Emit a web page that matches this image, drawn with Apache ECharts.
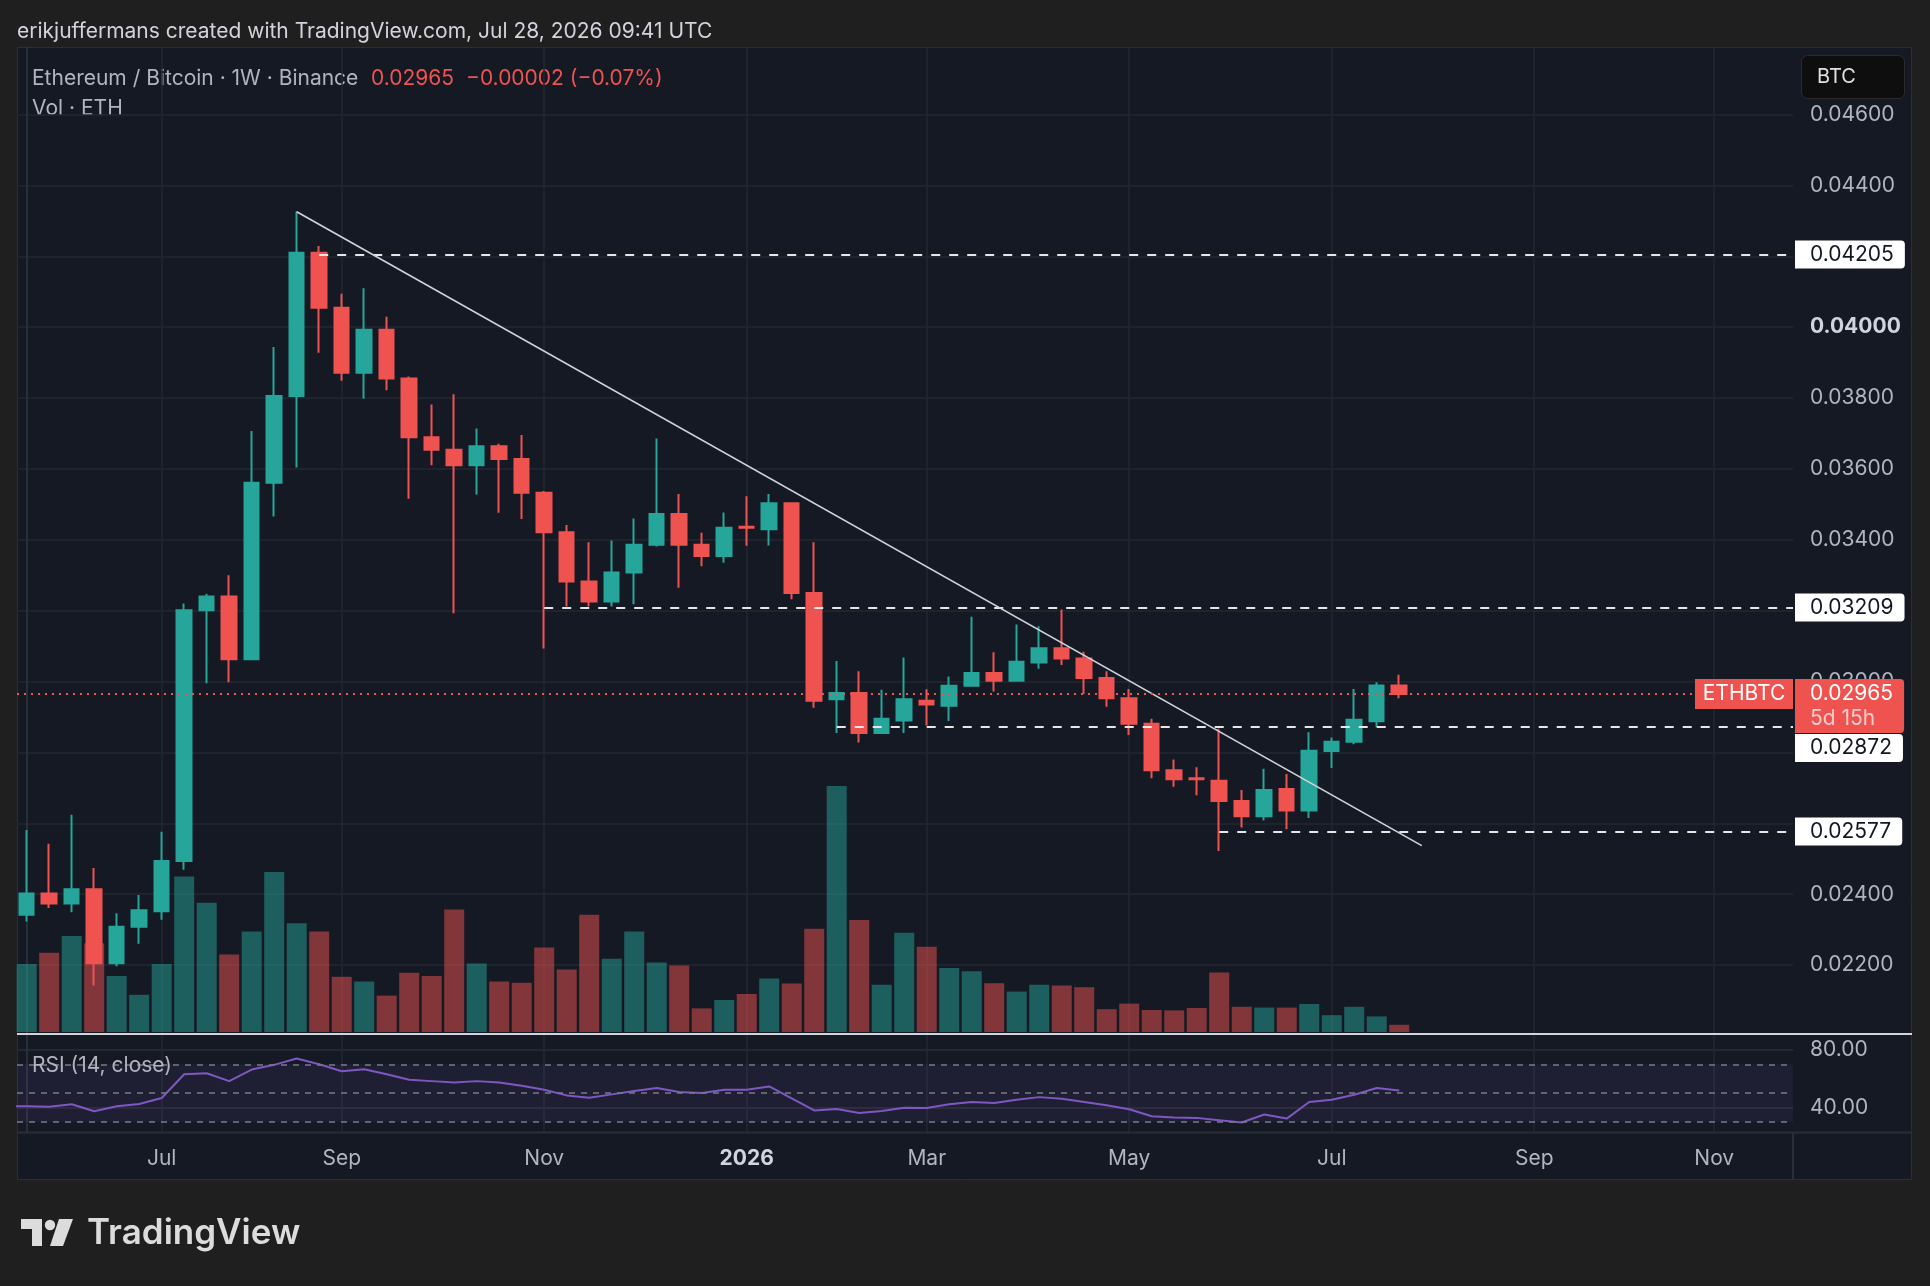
<!DOCTYPE html>
<html>
<head>
<meta charset="utf-8">
<script src="https://cdn.jsdelivr.net/npm/echarts@6/dist/echarts.min.js"></script>
<style>
  html, body { margin: 0; padding: 0; background: #1f1f1f; }
  #chart { width: 1930px; height: 1286px; }
</style>
</head>
<body>
<div id="chart"></div>
<script>
// ETH/BTC weekly, first bar = week of 26 May 2025
// [open, high, low, close]
var ohlc = [
  [0.02342, 0.02581, 0.02323, 0.02402], [0.02402, 0.02542, 0.02361, 0.02374],
  [0.02374, 0.02624, 0.02349, 0.02414], [0.02414, 0.02474, 0.02142, 0.02205],
  [0.02205, 0.02346, 0.02197, 0.02308], [0.02308, 0.02398, 0.02260, 0.02355],
  [0.02352, 0.02576, 0.02328, 0.02494], [0.02494, 0.03220, 0.02469, 0.03201],
  [0.03201, 0.03248, 0.02995, 0.03240], [0.03240, 0.03300, 0.02998, 0.03063],
  [0.03063, 0.03707, 0.03060, 0.03561], [0.03561, 0.03944, 0.03466, 0.03806],
  [0.03806, 0.04326, 0.03604, 0.04210], [0.04210, 0.04229, 0.03928, 0.04055],
  [0.04055, 0.04094, 0.03849, 0.03871], [0.03871, 0.04110, 0.03798, 0.03993],
  [0.03993, 0.04029, 0.03822, 0.03855], [0.03855, 0.03861, 0.03516, 0.03689],
  [0.03689, 0.03782, 0.03610, 0.03654], [0.03654, 0.03811, 0.03193, 0.03610],
  [0.03610, 0.03714, 0.03528, 0.03664], [0.03664, 0.03671, 0.03476, 0.03628],
  [0.03628, 0.03696, 0.03459, 0.03533], [0.03533, 0.03538, 0.03093, 0.03421],
  [0.03421, 0.03442, 0.03212, 0.03282], [0.03282, 0.03393, 0.03212, 0.03226],
  [0.03226, 0.03398, 0.03212, 0.03308], [0.03308, 0.03460, 0.03218, 0.03386],
  [0.03386, 0.03686, 0.03381, 0.03473], [0.03473, 0.03529, 0.03265, 0.03386],
  [0.03386, 0.03420, 0.03325, 0.03354], [0.03354, 0.03477, 0.03335, 0.03434],
  [0.03437, 0.03523, 0.03383, 0.03434], [0.03430, 0.03529, 0.03384, 0.03503],
  [0.03503, 0.03506, 0.03232, 0.03250], [0.03250, 0.03393, 0.02926, 0.02946],
  [0.02950, 0.03058, 0.02855, 0.02968], [0.02968, 0.03029, 0.02828, 0.02855],
  [0.02855, 0.02977, 0.02855, 0.02895], [0.02890, 0.03068, 0.02855, 0.02950],
  [0.02946, 0.02978, 0.02876, 0.02935], [0.02932, 0.03014, 0.02889, 0.02988],
  [0.02988, 0.03183, 0.02986, 0.03024], [0.03024, 0.03083, 0.02972, 0.03002],
  [0.03002, 0.03161, 0.03000, 0.03056], [0.03054, 0.03156, 0.03036, 0.03094],
  [0.03094, 0.03203, 0.03047, 0.03065], [0.03065, 0.03084, 0.02965, 0.03010],
  [0.03010, 0.03029, 0.02929, 0.02953], [0.02953, 0.02979, 0.02849, 0.02881],
  [0.02881, 0.02895, 0.02727, 0.02750], [0.02750, 0.02780, 0.02703, 0.02724],
  [0.02727, 0.02758, 0.02679, 0.02724], [0.02720, 0.02867, 0.02522, 0.02663],
  [0.02663, 0.02694, 0.02588, 0.02620], [0.02620, 0.02754, 0.02608, 0.02694],
  [0.02697, 0.02739, 0.02583, 0.02636], [0.02636, 0.02857, 0.02615, 0.02805],
  [0.02804, 0.02842, 0.02756, 0.02830], [0.02830, 0.02979, 0.02823, 0.02892],
  [0.02888, 0.02998, 0.02871, 0.02989], [0.02989, 0.03019, 0.02953, 0.02965]
];

// weekly volume, thousand ETH
var volume = [
  170, 198, 240, 222, 140, 93, 170, 389, 323, 194,
  251, 400, 272, 251, 138, 126, 91, 148, 140, 306,
  171, 126, 123, 211, 156, 293, 183, 251, 174, 166,
  59, 80, 95, 134, 121, 258, 615, 280, 118, 248,
  213, 160, 152, 122, 101, 118, 116, 112, 57, 71,
  55, 54, 60, 149, 63, 61, 61, 70, 42, 63,
  39, 18
];

// RSI(14), starts one week before the first visible bar
var rsiStart = -1;
var rsi = [
  40.9, 40.8, 40.5, 42.2, 37.4, 40.8, 42.4, 46.6, 63.1, 63.8, 58.3,
  66.3, 69.6, 74.0, 70.0, 65.2, 66.6, 63.1, 59.2, 58.3, 57.4,
  58.3, 57.4, 55.1, 52.3, 48.4, 46.8, 49.1, 51.4, 53.5, 50.7,
  50.0, 52.3, 52.3, 54.6, 46.3, 38.0, 39.0, 36.2, 37.6, 39.9,
  39.7, 42.2, 43.8, 43.1, 45.4, 47.2, 46.1, 43.8, 41.5, 38.8,
  33.9, 33.0, 32.8, 31.2, 29.6, 35.1, 32.3, 43.8, 45.4, 48.9,
  53.5, 51.8
];

var monthTicks = [6, 14, 23, 32, 40, 49, 58, 67, 75];
var monthLabels = ['Jul', 'Sep', 'Nov', '2026', 'Mar', 'May', 'Jul', 'Sep', 'Nov'];
var priceTicks = [0.022, 0.024, 0.026, 0.028, 0.030, 0.032, 0.034, 0.036, 0.038, 0.040, 0.042, 0.044, 0.046];
// 0.026 is hidden behind the 0.02577 level tag on the price scale
var priceLabels = [0.022, 0.024, 0.028, 0.030, 0.032, 0.034, 0.036, 0.038, 0.040, 0.042, 0.044, 0.046];
var rsiTicks = [40, 80];
var rsiBands = [70, 50, 30];

// drawn levels: [price, start week]
var levels = [[0.04205, 13], [0.03209, 23], [0.02872, 36], [0.02577, 53]];
// trend line: [week, price] -> [week, price]
var trendFrom = [12, 0.043257];
var trendTo = [62, 0.025371];
var lastPrice = 0.02965;

var FONT = 'Inter, Roboto, "Noto Sans", sans-serif';
var FS = 21;
var UP = '#26a69a', DOWN = '#ef5350';
var xMin = -0.431, xMax = 78.5;
var labelShift = { '0.02872': 21 };

var candles = ohlc.map(function (d, i) { return [i, d[0], d[3], d[2], d[1]]; });
var volBars = volume.map(function (v, i) {
  var up = ohlc[i][3] >= ohlc[i][0];
  return { value: [i, v], itemStyle: { color: up ? 'rgba(38,166,154,0.5)' : 'rgba(239,83,80,0.5)' } };
});
var rsiLine = rsi.map(function (v, k) { return [k + rsiStart, v]; });

var levelLines = levels.map(function (l) {
  var key = l[0].toFixed(5);
  return [
    {
      coord: [l[1], l[0]],
      lineStyle: { color: '#e6e6e6', type: [9, 9], width: 2 },
      label: {
        show: true, position: 'end', distance: 2,
        formatter: key,
        backgroundColor: '#ffffff', color: '#131722',
        fontSize: FS, fontFamily: FONT,
        padding: [4, 11, 3, 15], borderRadius: [0, 4, 4, 0],
        offset: [0, labelShift[key] || 0]
      }
    },
    { coord: [xMax, l[0]] }
  ];
});

var markLines = levelLines.concat([
  [
    { coord: trendFrom, lineStyle: { color: '#d1d4dc', type: 'solid', width: 1.6 }, label: { show: false } },
    { coord: trendTo }
  ],
  [
    {
      coord: [xMin, lastPrice],
      lineStyle: { color: DOWN, type: [2, 5], width: 2 },
      label: {
        show: true, position: 'end', distance: 2,
        formatter: '{p|' + lastPrice.toFixed(5) + '}\n{t|5d 15h}',
        backgroundColor: DOWN, padding: [2, 11, 2, 15], borderRadius: [0, 4, 4, 0],
        offset: [0, 12],
        rich: {
          p: { color: '#ffffff', fontSize: FS, fontFamily: FONT, lineHeight: 25 },
          t: { color: 'rgba(255,255,255,0.7)', fontSize: FS, fontFamily: FONT, lineHeight: 25 }
        }
      }
    },
    { coord: [xMax, lastPrice] }
  ]
]);

var gridLineColor = '#232732';
var axisColor = '#2a2e39';

var option = {
  animation: false,
  backgroundColor: '#1f1f1f',
  grid: [
    { left: 17, top: 47, width: 1776, height: 987 },
    { left: 17, top: 632, width: 1776, height: 400 },
    { left: 17, top: 1034, width: 1776, height: 98 }
  ],
  xAxis: [
    {
      type: 'value', gridIndex: 0, min: xMin, max: xMax,
      axisLine: { show: false }, axisLabel: { show: false },
      axisTick: { show: false, customValues: monthTicks },
      splitLine: { show: true, lineStyle: { color: gridLineColor, width: 1.5 } }
    },
    {
      type: 'value', gridIndex: 1, min: xMin, max: xMax, show: false,
      splitLine: { show: false }
    },
    {
      type: 'value', gridIndex: 2, min: xMin, max: xMax,
      axisLine: { show: false },
      axisTick: { show: false, customValues: monthTicks },
      axisLabel: {
        customValues: monthTicks, margin: 16,
        color: '#b2b5be', fontSize: FS, fontFamily: FONT,
        formatter: function (v) {
          var k = monthTicks.indexOf(Math.round(v));
          if (k < 0) return '';
          return monthLabels[k] === '2026' ? '{b|2026}' : monthLabels[k];
        },
        rich: { b: { color: '#d1d4dc', fontWeight: 'bold', fontSize: FS, fontFamily: FONT } }
      },
      splitLine: { show: true, lineStyle: { color: gridLineColor, width: 1.5 } }
    }
  ],
  yAxis: [
    {
      type: 'value', gridIndex: 0, position: 'right', min: 0.020055, max: 0.047905,
      axisLine: { show: true, lineStyle: { color: axisColor, width: 2 } },
      axisTick: { show: false, customValues: priceTicks },
      axisLabel: {
        customValues: priceLabels, margin: 17, align: 'left',
        color: '#b2b5be', fontSize: FS, fontFamily: FONT,
        formatter: function (v) {
          var s = v.toFixed(5);
          return s === '0.04000' ? '{b|' + s + '}' : s;
        },
        rich: { b: { color: '#d1d4dc', fontWeight: 'bold', fontSize: FS, fontFamily: FONT } }
      },
      splitLine: { show: true, lineStyle: { color: gridLineColor, width: 1.5 } }
    },
    {
      type: 'value', gridIndex: 1, min: 0, max: 1000, show: false, splitLine: { show: false }
    },
    {
      type: 'value', gridIndex: 2, position: 'right', min: 23, max: 91,
      axisLine: { show: true, lineStyle: { color: axisColor, width: 2 } },
      axisTick: { show: false, customValues: rsiTicks },
      axisLabel: {
        customValues: rsiTicks, margin: 17, align: 'left',
        color: '#b2b5be', fontSize: FS, fontFamily: FONT,
        formatter: function (v) { return v.toFixed(2); }
      },
      splitLine: { show: true, lineStyle: { color: '#2a2e39', width: 1.5 } }
    }
  ],
  series: [
    {
      type: 'bar', name: 'Vol', xAxisIndex: 1, yAxisIndex: 1, z: 1,
      barWidth: 20, data: volBars
    },
    {
      type: 'candlestick', name: 'ETHBTC', xAxisIndex: 0, yAxisIndex: 0, z: 3,
      dimensions: ['week', 'open', 'close', 'lowest', 'highest'],
      encode: { x: 0, y: [1, 2, 3, 4] },
      barWidth: 15,
      itemStyle: { color: UP, color0: DOWN, borderColor: UP, borderColor0: DOWN, borderWidth: 2 },
      data: candles,
      markLine: { silent: true, symbol: ['none', 'none'], data: markLines },
      markPoint: {
        silent: true,
        data: [{
          coord: [xMax, lastPrice],
          symbol: 'rect', symbolSize: [98, 30], symbolOffset: [-49, 0],
          itemStyle: { color: DOWN },
          label: { show: true, position: 'inside', formatter: 'ETHBTC', color: '#ffffff', fontSize: FS, fontFamily: FONT }
        }]
      }
    },
    {
      type: 'line', name: 'RSI', xAxisIndex: 2, yAxisIndex: 2, z: 3,
      showSymbol: false, clip: true,
      lineStyle: { color: '#7e57c2', width: 2 },
      data: rsiLine,
      markArea: {
        silent: true,
        itemStyle: { color: 'rgba(126,87,194,0.1)' },
        data: [[{ yAxis: rsiBands[2] }, { yAxis: rsiBands[0] }]]
      },
      markLine: {
        silent: true, symbol: ['none', 'none'],
        label: { show: false },
        lineStyle: { color: '#787b86', type: [6, 6], width: 1.5 },
        data: rsiBands.map(function (b) { return { yAxis: b }; })
      }
    }
  ],
  graphic: [
    { type: 'rect', z: -10, shape: { x: 17.5, y: 47.5, width: 1894, height: 1132 },
      style: { fill: '#151924', stroke: '#2a2e39', lineWidth: 1 } },
    { type: 'text', x: 17, y: 32, style: { text: 'erikjuffermans created with TradingView.com, Jul 28, 2026 09:41 UTC',
      fill: '#d1d4dc', fontSize: FS, fontFamily: FONT, verticalAlign: 'middle' } },
    { type: 'text', x: 32, y: 79, style: { text: 'Ethereum / Bitcoin · 1W · Binance',
      fill: '#b2b5be', fontSize: FS, fontFamily: FONT, verticalAlign: 'middle' } },
    { type: 'text', x: 371, y: 79, style: { text: '0.02965',
      fill: '#f05350', fontSize: FS, fontFamily: FONT, verticalAlign: 'middle' } },
    { type: 'text', x: 466, y: 79, style: { text: '\u22120.00002 (\u22120.07%)',
      fill: '#f05350', fontSize: FS, fontFamily: FONT, verticalAlign: 'middle' } },
    { type: 'text', x: 32, y: 109, style: { text: 'Vol · ETH',
      fill: '#b2b5be', fontSize: FS, fontFamily: FONT, verticalAlign: 'middle' } },
    { type: 'rect', shape: { x: 1801.5, y: 55.5, width: 103, height: 43, r: 6 },
      style: { fill: '#0e0e0e', stroke: '#2c2c2c', lineWidth: 1 } },
    { type: 'text', x: 1817, y: 77, style: { text: 'BTC', fill: '#e0e0e0', fontSize: 20, fontFamily: FONT, verticalAlign: 'middle' } },
    { type: 'line', z: 10, shape: { x1: 17, y1: 1034, x2: 1912, y2: 1034 }, style: { stroke: '#d1d4dc', lineWidth: 2 } },
    { type: 'line', z: 10, shape: { x1: 17, y1: 1132.5, x2: 1912, y2: 1132.5 }, style: { stroke: '#2a2e39', lineWidth: 2 } },
    { type: 'line', z: 10, shape: { x1: 1793, y1: 1132, x2: 1793, y2: 1180 }, style: { stroke: '#2a2e39', lineWidth: 2 } },
    { type: 'text', z: 10, x: 32, y: 1066, style: { text: 'RSI (14, close)', fill: '#b2b5be', fontSize: FS, fontFamily: FONT, verticalAlign: 'middle' } },
    // TradingView logo
    { type: 'polygon', shape: { points: [[21, 1219], [42, 1219], [42, 1246], [32, 1246], [32, 1229], [21, 1229]] }, style: { fill: '#dcdcdc' } },
    { type: 'circle', shape: { cx: 50, cy: 1225, r: 5.2 }, style: { fill: '#dcdcdc' } },
    { type: 'polygon', shape: { points: [[59, 1219], [73, 1219], [63, 1246], [50, 1246]] }, style: { fill: '#dcdcdc' } },
    { type: 'text', x: 87, y: 1233, style: { text: 'TradingView', fill: '#dcdcdc', fontSize: 35, fontWeight: 600, fontFamily: FONT, verticalAlign: 'middle' } }
  ]
};

var chart = echarts.init(document.getElementById('chart'));
chart.setOption(option);
</script>
</body>
</html>
